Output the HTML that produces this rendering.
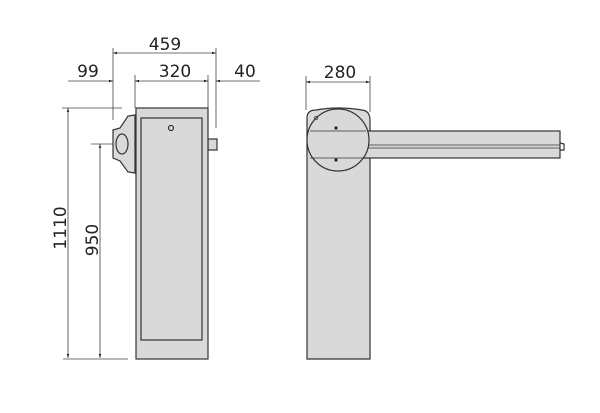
<!DOCTYPE html>
<html><head><meta charset="utf-8"><style>body{margin:0;background:#fff}svg{display:block}</style></head>
<body>
<svg width="600" height="413" viewBox="0 0 600 413" xmlns="http://www.w3.org/2000/svg" font-family="'DejaVu Sans','Liberation Sans',sans-serif">
<defs><marker id="a" viewBox="0 0 10 10" refX="10" refY="5" markerWidth="7" markerHeight="5" orient="auto-start-reverse"><path d="M0,2 L10,5 L0,8z" fill="#222"/></marker></defs>
<g stroke="#444" stroke-width="0.8" fill="none">
<!-- horizontal dims -->
<line x1="113" y1="53" x2="216" y2="53" marker-start="url(#a)" marker-end="url(#a)"/>
<line x1="68" y1="81" x2="113" y2="81" marker-end="url(#a)"/>
<line x1="135" y1="81" x2="208" y2="81" marker-start="url(#a)" marker-end="url(#a)"/>
<line x1="216" y1="81" x2="260" y2="81" marker-start="url(#a)"/>
<line x1="113" y1="48" x2="113" y2="120"/>
<line x1="216" y1="48" x2="216" y2="128"/>
<line x1="135" y1="75" x2="135" y2="108"/>
<line x1="208" y1="75" x2="208" y2="108"/>
<line x1="306" y1="82" x2="370" y2="82" marker-start="url(#a)" marker-end="url(#a)"/>
<line x1="306" y1="76" x2="306" y2="110"/>
<line x1="370" y1="76" x2="370" y2="112"/>
<!-- vertical dims -->
<line x1="68" y1="108" x2="68" y2="358" marker-start="url(#a)" marker-end="url(#a)"/>
<line x1="100" y1="144" x2="100" y2="358" marker-start="url(#a)" marker-end="url(#a)"/>
<line x1="62" y1="108" x2="122" y2="108"/>
<line x1="91" y1="144" x2="128" y2="144"/>
<line x1="63" y1="359" x2="128" y2="359"/>
</g>
<g font-size="17" fill="#222" text-anchor="middle">
<text x="165" y="50">459</text>
<text x="88" y="77">99</text>
<text x="175" y="77">320</text>
<text x="245" y="77">40</text>
<text x="340" y="78">280</text>
<text transform="translate(66,228) rotate(-90)">1110</text>
<text transform="translate(98,240) rotate(-90)">950</text>
</g>
<g stroke="#333" stroke-width="1.2" fill="#d9d9d9">
<!-- left cabinet -->
<rect x="208" y="139" width="9" height="11"/>
<rect x="136" y="108" width="72" height="251"/>
<rect x="141" y="118" width="61" height="222"/>
<circle cx="171" cy="128" r="2.5" fill="none"/>
<path d="M135,115 L128,116 L120,128 L113,130 L113,158 L120,161 L128,172 L135,173 Z"/>
<ellipse cx="122" cy="144" rx="6" ry="10" fill="none"/>
<!-- right cabinet -->
<path d="M307,359 L307,118 Q307,110 316,110 Q338,106 362,110 Q370,111 370,120 L370,359 Z"/>
<rect x="360" y="131" width="200" height="27"/>
<line x1="360" y1="145" x2="560" y2="145" stroke-width="0.8"/>
<line x1="360" y1="148" x2="560" y2="148" stroke-width="0.8"/>
<path d="M560,143 L564,144 L564,150 L560,150" fill="none"/>
<circle cx="338" cy="140" r="31"/>
<line x1="310" y1="131" x2="366" y2="131" stroke-width="0.8"/>
<line x1="310" y1="158" x2="366" y2="158" stroke-width="0.8"/>
<circle cx="316" cy="118" r="1.8" fill="none" stroke-width="0.7"/>
</g>
<circle cx="336" cy="128" r="1.6" fill="#222"/>
<circle cx="336" cy="160" r="1.6" fill="#222"/>
</svg>
</body></html>
